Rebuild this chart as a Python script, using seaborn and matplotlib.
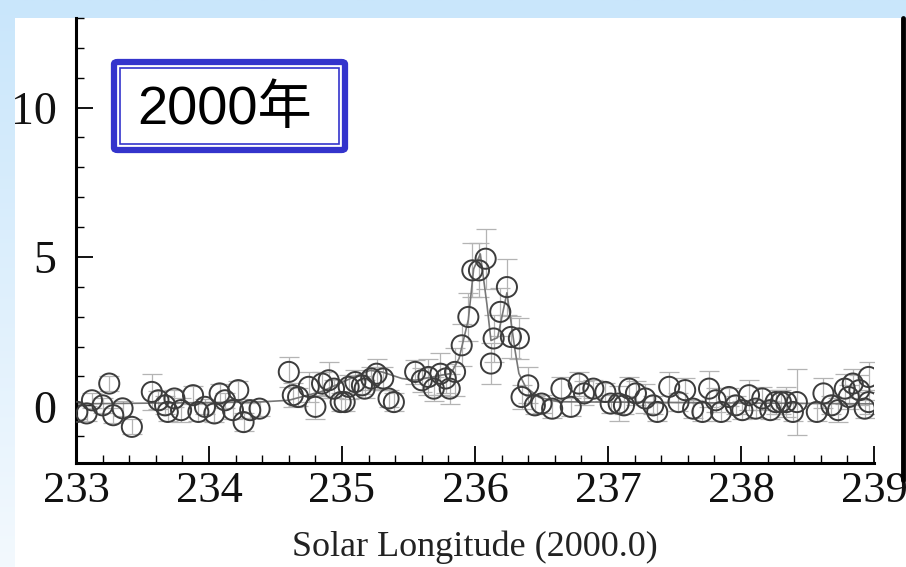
import numpy as np
import pandas as pd
import matplotlib
matplotlib.use('Agg')
import matplotlib.pyplot as plt
import seaborn as sns
from matplotlib.patches import Rectangle, FancyBboxPatch
from matplotlib.lines import Line2D
from matplotlib.ticker import MultipleLocator
from matplotlib.colors import LinearSegmentedColormap

sns.set_theme(style='ticks')
plt.rcParams['font.family'] = ['Liberation Serif', 'DejaVu Sans']

# =============================================================================
# DATA
sol = [233.01, 233.08, 233.12, 233.20, 233.25, 233.28, 233.35, 233.42, 233.57, 233.62,
       233.67, 233.69, 233.74, 233.79, 233.88, 233.92, 233.97, 234.04, 234.08, 234.12,
       234.18, 234.22, 234.26, 234.31, 234.38, 234.60, 234.63, 234.67, 234.75, 234.80,
       234.85, 234.90, 234.94, 234.99, 235.02, 235.05, 235.10, 235.15, 235.17, 235.22,
       235.26, 235.31, 235.35, 235.39, 235.55, 235.60, 235.65, 235.69, 235.74, 235.78,
       235.81, 235.85, 235.90, 235.95, 235.98, 236.03, 236.08, 236.12, 236.14, 236.19,
       236.24, 236.27, 236.33, 236.40, 236.35, 236.45, 236.58, 236.50, 236.65, 236.72,
       236.78, 236.82, 236.89, 236.98, 237.02, 237.08, 237.12, 237.16, 237.21, 237.28,
       237.34, 237.37, 237.46, 237.53, 237.58, 237.64, 237.71, 237.76, 237.81, 237.85,
       237.91, 237.96, 238.01, 238.06, 238.11, 238.16, 238.22, 238.26, 238.30, 238.34,
       238.39, 238.42, 238.57, 238.62, 238.68, 238.73, 238.78, 238.81, 238.84, 238.89,
       238.93, 238.96, 238.96]
zhr = [-0.19, -0.24, 0.20, 0.03, 0.76, -0.30, -0.07, -0.69, 0.48, 0.20,
       0.03, -0.19, 0.26, -0.13, 0.37, -0.19, -0.02, -0.24, 0.43, 0.20,
       -0.13, 0.54, -0.53, -0.13, -0.08, 1.15, 0.37, 0.31, 0.65, -0.02,
       0.76, 0.87, 0.59, 0.14, 0.14, 0.65, 0.81, 0.70, 0.59, 0.93,
       1.09, 0.93, 0.26, 0.14, 1.15, 0.87, 0.98, 0.59, 1.09, 0.93,
       0.59, 1.15, 2.04, 2.99, 4.55, 4.55, 4.94, 1.43, 2.27, 3.16,
       3.99, 2.32, 2.27, 0.70, 0.31, 0.03, -0.08, 0.09, 0.59, -0.02,
       0.76, 0.43, 0.59, 0.48, 0.09, 0.09, 0.03, 0.59, 0.43, 0.26,
       0.03, -0.19, 0.65, 0.14, 0.54, -0.08, -0.19, 0.59, 0.20, -0.19,
       0.31, 0.03, -0.13, 0.37, -0.08, 0.26, -0.13, 0.14, 0.14, 0.14,
       -0.19, 0.14, -0.19, 0.43, 0.03, -0.13, 0.59, 0.31, 0.76, 0.54,
       -0.08, 0.98, 0.14]
err = [0.25, 0.25, 0.25, 0.25, 0.25, 0.25, 0.25, 0.25, 0.60, 0.30,
       0.30, 0.30, 0.30, 0.40, 0.30, 0.30, 0.25, 0.30, 0.30, 0.25,
       0.30, 0.30, 0.30, 0.25, 0.25, 0.50, 0.40, 0.30, 0.50, 0.40,
       0.40, 0.60, 0.30, 0.30, 0.30, 0.40, 0.40, 0.30, 0.30, 0.40,
       0.50, 0.40, 0.30, 0.30, 0.40, 0.40, 0.60, 0.40, 0.70, 0.50,
       0.50, 0.80, 0.70, 0.80, 0.90, 0.90, 1.00, 0.70, 0.80, 0.80,
       0.95, 0.70, 0.70, 0.60, 0.40, 0.30, 0.30, 0.30, 0.40, 0.30,
       0.40, 0.40, 0.30, 0.30, 0.30, 0.60, 0.30, 0.40, 0.40, 0.50,
       0.30, 0.30, 0.50, 0.30, 0.40, 0.30, 0.30, 0.60, 0.40, 0.30,
       0.30, 0.30, 0.30, 0.50, 0.30, 0.40, 0.30, 0.40, 0.40, 0.50,
       0.30, 1.10, 0.30, 0.50, 0.30, 0.40, 0.50, 0.40, 0.50, 0.50,
       0.30, 0.50, 0.40]

# fitted model curve
fit_sol = [233.0, 234.37, 234.6, 234.85, 235.1, 235.21, 235.3, 235.45, 235.55,
           235.82, 235.88, 235.95, 235.99, 236.04, 236.09, 236.12, 236.17,
           236.24, 236.30, 236.33, 236.38, 236.48, 236.63, 239.0]
fit_zhr = [0.08, 0.14, 0.2, 0.5, 1.0, 1.2, 1.15, 0.93, 0.87,
           1.1, 1.6, 2.9, 4.6, 5.1, 3.4, 2.2, 2.3,
           3.8, 1.9, 1.1, 0.65, 0.3, 0.15, 0.08]

label_text = '2000年'
xlabel = 'Solar Longitude (2000.0)'

df = pd.DataFrame({'sol': sol, 'zhr': zhr, 'err': err})
df_fit = pd.DataFrame({'sol': fit_sol, 'zhr': fit_zhr})

# =============================================================================
# FIGURE
W, H = 906, 567
fig = plt.figure(figsize=(W/100, H/100), dpi=100)
fig.patch.set_facecolor('#cce8fb')

# slide background: light blue fading downwards
bg = fig.add_axes([0, 0, 1, 1], zorder=-5)
grad = np.linspace(0, 1, 256).reshape(-1, 1)
cmap = LinearSegmentedColormap.from_list('slide', ['#f3f9fe', '#c9e6fb'])
bg.imshow(grad, aspect='auto', cmap=cmap, extent=[0, 1, 0, 1], origin='lower')
bg.axis('off')

# white slide area
fig.patches.append(Rectangle((15/W, 0), 1, 1 - 18/H, transform=fig.transFigure,
                             facecolor='white', edgecolor='none', zorder=-4))
# edge of the neighbouring panel
fig.lines.append(Line2D([903/W, 903/W], [1 - 18/H, 1 - 480/H], transform=fig.transFigure,
                        color='black', lw=3.5))

ax = fig.add_axes([76/W, 1 - 463/H, (874 - 76)/W, (463 - 18)/H])
ax.set_facecolor('none')

ax.errorbar(df['sol'], df['zhr'], yerr=df['err'], fmt='none', ecolor='#b4b4b4',
            elinewidth=0.9, capsize=7, capthick=0.9, zorder=1)
sns.lineplot(data=df_fit, x='sol', y='zhr', ax=ax, color='#777777', lw=1.2, zorder=2)
sns.scatterplot(data=df, x='sol', y='zhr', ax=ax, marker='o', s=210,
                facecolors='none', edgecolor='#3c3c3c', linewidth=1.4, zorder=3)

ax.set_xlim(233, 239)
ax.set_ylim(-1.9, 13)
ax.xaxis.set_major_locator(MultipleLocator(1))
ax.xaxis.set_minor_locator(MultipleLocator(0.2))
ax.yaxis.set_major_locator(MultipleLocator(5))
ax.yaxis.set_minor_locator(MultipleLocator(1))
ax.tick_params(which='major', direction='in', length=12, width=1.3, color='black',
               labelcolor='#111111')
ax.tick_params(which='minor', direction='in', length=6, width=1.0, color='black')
ax.tick_params(axis='x', which='major', labelsize=32, pad=6)
ax.tick_params(axis='y', which='major', labelsize=33, pad=14)
ax.set_xlabel(xlabel, fontsize=26, color='#222222', labelpad=14)
ax.set_ylabel('')
for s in ['top', 'right']:
    ax.spines[s].set_visible(False)
for s in ['left', 'bottom']:
    ax.spines[s].set_linewidth(2.2)
    ax.spines[s].set_color('black')

# boxed year label
fig.patches.append(FancyBboxPatch((114/W, 1 - 150/H), 231/W, 88/H,
                                  boxstyle='round,pad=0,rounding_size=0.004',
                                  transform=fig.transFigure, facecolor='white',
                                  edgecolor='#3434cc', lw=4.5, zorder=5))
fig.patches.append(Rectangle((120/W, 1 - 144/H), 219/W, 76/H, transform=fig.transFigure,
                             facecolor='none', edgecolor='#3434cc', lw=1.2, zorder=6))
fig.text(225/W, 1 - 110/H, label_text, fontsize=39, color='black', ha='center', va='center',
         family=['Liberation Sans', 'Noto Sans CJK SC'], zorder=7)

fig.savefig('out.png', dpi=100, facecolor=fig.get_facecolor())
